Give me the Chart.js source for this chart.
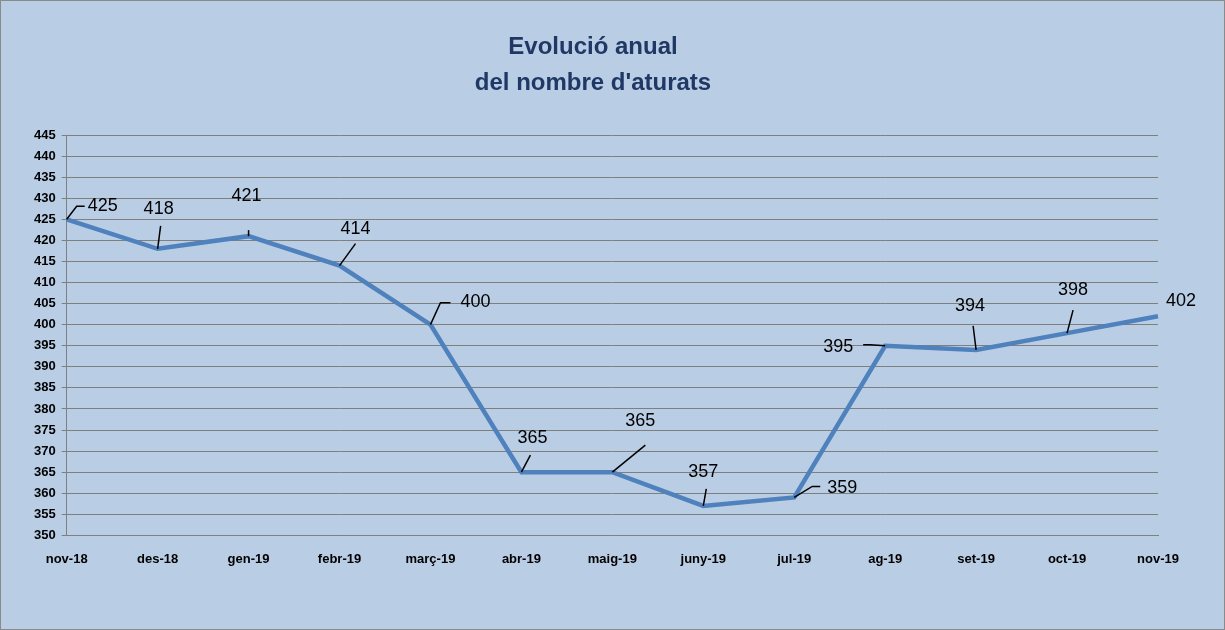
<!DOCTYPE html>
<html><head><meta charset="utf-8">
<script src="https://cdn.jsdelivr.net/npm/chart.js@4"></script>
<style>
html,body{margin:0;padding:0;background:#b9cde5;}
#wrap{position:absolute;left:0;top:0;width:1223px;height:628px;border:1px solid #8a8a8a;background:#b9cde5;}
</style></head><body>
<div id="wrap"><canvas id="c"></canvas></div>
<script>
const categories=["nov-18","des-18","gen-19","febr-19","març-19","abr-19","maig-19","juny-19","jul-19","ag-19","set-19","oct-19","nov-19"];
const values=[425,418,421,414,400,365,365,357,359,395,394,398,402];
const yMin=350, yMax=445, yStep=5;
// label placement: [text dx, text dy, leader end dx, leader end dy, elbow dx] (pixels, styling only)
const labelPos=[[36,-13,10,-13,18],[1,-40,3,-23,null],[-2,-40,0,-6,null],[16,-37,16,-22,null],[45,-23,10,-22,20],[11,-34,9,-17,null],[28,-51,33,-27,null],[0,-34,3,-17,null],[48,-9,18,-11,26],[-47,1,-15,-1,-22],[-6,-44,-3,-24,null],[6,-43,6,-23,null],[23,-15,null,null,null]];
const labelPlugin={id:'lbl',afterDatasetsDraw(chart){
 const ctx=chart.ctx;const meta=chart.getDatasetMeta(0);
 ctx.save();ctx.font='18px "Liberation Sans", Arial';ctx.fillStyle='#000';ctx.textAlign='center';ctx.textBaseline='middle';
 ctx.strokeStyle='#000';ctx.lineWidth=1.5;
 meta.data.forEach((p,i)=>{const o=labelPos[i];
  if(o[2]!==null){ctx.beginPath();ctx.moveTo(p.x,p.y);ctx.lineTo(p.x+o[2],p.y+o[3]);if(o[4]!==null)ctx.lineTo(p.x+o[4],p.y+o[3]);ctx.stroke();}
  ctx.fillText(String(values[i]),p.x+o[0],p.y+o[1]);});
 ctx.restore();}};
new Chart(document.getElementById('c'),{type:'line',
 data:{labels:categories,datasets:[{data:values,borderColor:'#4f81bd',borderWidth:4.5,pointRadius:0,tension:0}]},
 options:{responsive:true,maintainAspectRatio:false,animation:false,
  layout:{padding:{left:27,right:66,top:22,bottom:54}},
  plugins:{legend:{display:false},tooltip:{enabled:false},
   title:{display:true,text:["Evolució anual","del nombre d'aturats"],color:'#1f3864',font:{family:'"Liberation Sans", Arial',size:24,weight:'bold',lineHeight:1.5},padding:{top:6,bottom:34}}},
  scales:{x:{offset:false,grid:{display:false},border:{color:'#808080'},ticks:{color:'#000',font:{family:'"Liberation Sans", Arial',size:13,weight:'bold'},maxRotation:0,autoSkip:false,padding:8}},
   y:{min:yMin,max:yMax,ticks:{stepSize:yStep,color:'#000',font:{family:'"Liberation Sans", Arial',size:13,weight:'bold'},padding:6},grid:{color:'#7f7f7f',drawTicks:true,tickLength:5},border:{color:'#808080'}}}},
 plugins:[labelPlugin]});
</script></body></html>
